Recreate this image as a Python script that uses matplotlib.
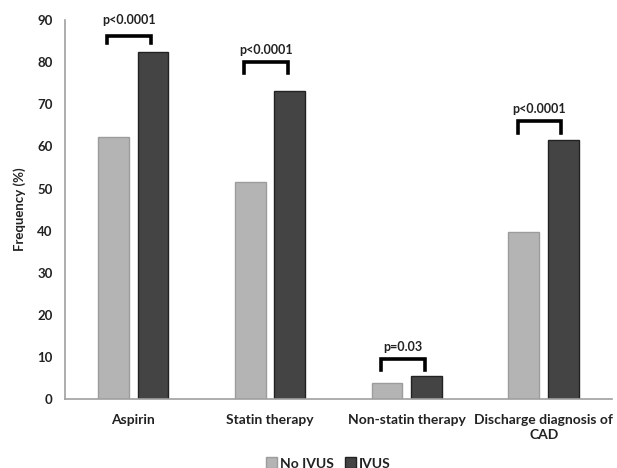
import matplotlib
matplotlib.use("Agg")
import matplotlib.pyplot as plt
import numpy as np

categories = ["Aspirin", "Statin therapy", "Non-statin therapy", "Discharge diagnosis of\nCAD"]
no_ivus = [62.2, 51.6, 3.8, 39.6]
ivus = [82.4, 73.2, 5.5, 61.5]
p_labels = ["p<0.0001", "p<0.0001", "p=0.03", "p<0.0001"]
bracket_top = [86.3, 80.0, 9.5, 66.0]
bracket_drop = [1.8, 2.6, 2.6, 2.8]
text_y = [90.0, 82.9, 12.4, 68.9]
yticks = list(range(0, 91, 10))

plt.rcParams["font.family"] = ["Lato", "DejaVu Sans"]

fig = plt.figure(figsize=(6.17, 4.68), dpi=100)
ax = fig.add_axes([0.105, 0.147, 0.887, 0.81])

x = np.arange(len(categories))
w = 0.226
off = 0.145
ax.bar(x - off, no_ivus, w, color="#b4b4b4", edgecolor="#9c9c9c", linewidth=1, label="No IVUS")
ax.bar(x + off, ivus, w, color="#444444", edgecolor="#222222", linewidth=1, label="IVUS")

for i in range(len(categories)):
    x0, x1 = x[i] - 0.19, x[i] + 0.13
    top = bracket_top[i]
    bot = top - bracket_drop[i]
    ax.plot([x0, x0, x1, x1], [bot, top, top, bot], color="black", linewidth=2.6,
            solid_joinstyle="miter", clip_on=False)
    ax.text((x0 + x1) / 2, text_y[i], p_labels[i], ha="center", va="center",
            fontsize=9, fontweight="bold", color="#222222")

ax.set_xlim(-0.5, 3.5)
ax.set_ylim(0, 90)
ax.set_yticks(yticks)
ax.set_xticks(x)
ax.set_xticklabels(categories, fontsize=10, fontweight="bold", color="#222222",
                   linespacing=1.25)
ax.tick_params(axis="y", length=0, pad=8.6, labelsize=9.5, labelcolor="#222222")
ax.tick_params(axis="x", length=0, pad=11)
for lab in ax.get_yticklabels():
    lab.set_fontweight("bold")
ax.set_ylabel("Frequency (%)", fontsize=9.5, fontweight="bold", color="#222222", labelpad=8)

for s in ["top", "right"]:
    ax.spines[s].set_visible(False)
ax.spines["left"].set_color("#a0a0a0")
ax.spines["bottom"].set_color("#a0a0a0")
ax.spines["left"].set_linewidth(1.2)
ax.spines["bottom"].set_linewidth(1.2)

leg = fig.legend(loc="lower center", bbox_to_anchor=(0.532, -0.03), ncol=2, frameon=False,
                 fontsize=10, handlelength=0.8, handleheight=0.8, handletextpad=0.2,
                 columnspacing=0.8)
for t in leg.get_texts():
    t.set_fontweight("bold")
    t.set_color("#222222")

fig.savefig("out.png", dpi=100)
